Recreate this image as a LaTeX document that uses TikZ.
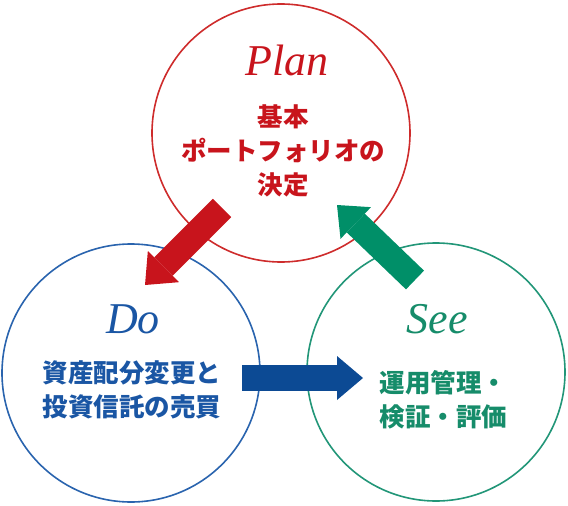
\documentclass[tikz,border=0pt]{standalone}
\usepackage{fontspec}
\setmainfont{Liberation Serif}
\newfontfamily\jpfont{Noto Sans CJK JP}
\usetikzlibrary{arrows.meta, positioning}
\definecolor{planred}{RGB}{200,20,28}
\definecolor{planline}{RGB}{206,44,44}
\definecolor{doblue}{RGB}{12,74,148}
\definecolor{doline}{RGB}{42,100,174}
\definecolor{dotext}{RGB}{26,86,164}
\definecolor{seegreen}{RGB}{0,143,104}
\definecolor{seeline}{RGB}{34,150,120}
\definecolor{seetext}{RGB}{22,140,106}

\begin{document}
\begin{tikzpicture}[
    x=1pt, y=-1pt,
    ring/.style={circle, draw, line width=1.6pt, minimum size=258pt, inner sep=0pt},
    title/.style={font=\fontsize{44}{44}\selectfont\itshape, anchor=base},
    body/.style={font=\jpfont\bfseries\fontsize{25.5}{34}\selectfont, align=center},
    flow/.style={line width=26pt, -{Triangle[width=44pt, length=26pt, line width=0pt]}}
]
\useasboundingbox (0,0) rectangle (568,506);
\node[ring, draw=planline] (plan) at (281,133) {};
\node[ring, draw=doline] (do) at (131,373) {};
\node[ring, draw=seeline] (see) at (436,372) {};
\node[title, text=planred] (plantitle) at (287,75) {Plan};
\node[body, text=planred] (plantext) at (283,151) {基本\\ポートフォリオの\\決定};
\node[title, text=dotext] (dotitle) at (133,333) {Do};
\node[body, text=dotext] (dotext) at (132,390) {資産配分変更と\\投資信託の売買};
\node[title, text=seetext] (seetitle) at (437,333) {See};
\node[body, text=seetext, align=left, anchor=west] (seetext) at (376,400) {運用管理・\\検証・評価};
% arrows between the stages
\coordinate (r1) at (222,208);
\coordinate (r2) at (145,285);
\coordinate (b1) at (242,378);
\coordinate (b2) at (363,378);
\coordinate (g1) at (415,280);
\coordinate (g2) at (337,205);
\draw[flow, planred] (r1) -- (r2);
\draw[flow, doblue] (b1) -- (b2);
\draw[flow, seegreen] (g1) -- (g2);
\end{tikzpicture}
\end{document}
